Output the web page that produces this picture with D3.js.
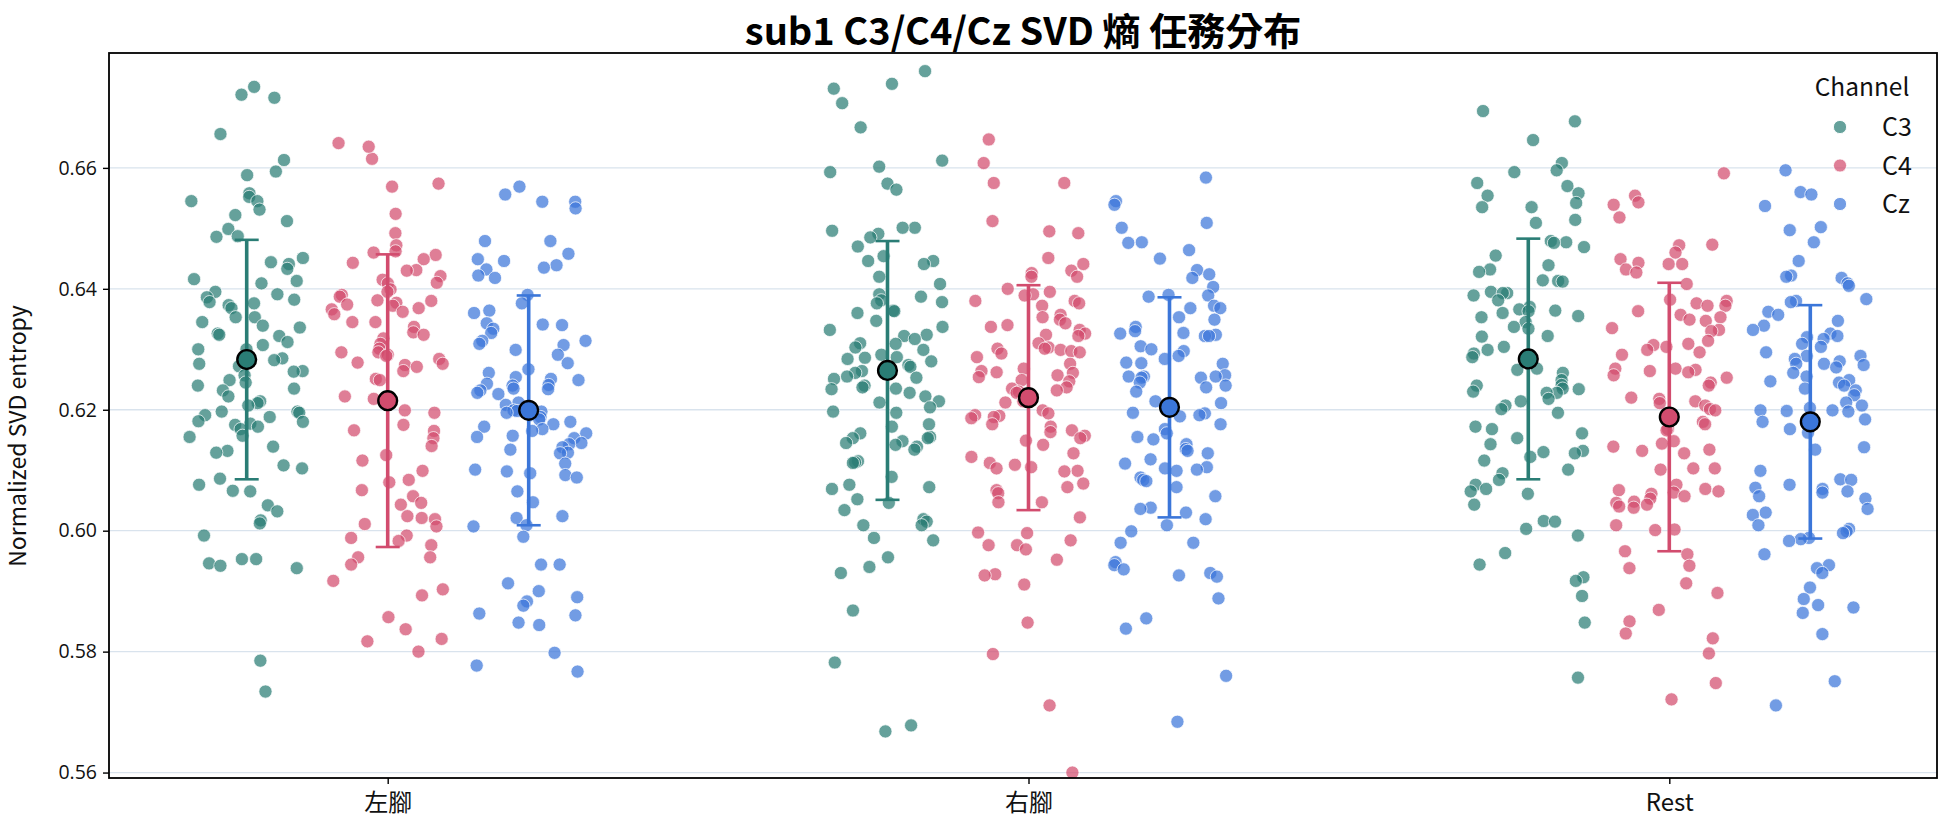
<!DOCTYPE html>
<html><head><meta charset="utf-8">
<script src="https://cdn.jsdelivr.net/npm/d3@7"></script>
<style>body{margin:0;background:#fff}</style>
</head><body><svg id="chart" width="1944" height="827"></svg>
<script>
const categories = ["左腳", "右腳", "Rest"];
const channels = ["C3", "C4", "Cz"];
const yTicks = [0.56, 0.58, 0.60, 0.62, 0.64, 0.66];

const mean_C3 = [0.6283, 0.6265, 0.6284];
const mean_C4 = [0.6215, 0.6220, 0.6188];
const mean_Cz = [0.6199, 0.6204, 0.6180];
const sd_C3 = [0.0198, 0.0214, 0.0199];
const sd_C4 = [0.0242, 0.0186, 0.0222];
const sd_Cz = [0.0190, 0.0182, 0.0193];

const leftFoot_C3 = [0.6716,0.6734,0.6721,0.6656,0.6613,0.6594,0.6588,0.6558,0.6552,0.6545,0.6545,0.6531,0.6522,0.6512,0.6499,0.6487,0.6486,0.6451,0.6444,0.6441,0.6433,0.6416,0.6409,0.6413,0.6395,0.6391,0.6386,0.6382,0.6378,0.6373,0.6376,0.6368,0.6353,0.6353,0.6345,0.6339,0.6336,0.6326,0.6324,0.6322,0.6312,0.6307,0.6300,0.6300,0.6285,0.6282,0.6276,0.6272,0.6264,0.6263,0.6257,0.6249,0.6245,0.6240,0.6235,0.6232,0.6222,0.6214,0.6211,0.6207,0.6197,0.6197,0.6195,0.6191,0.6188,0.6181,0.6180,0.6177,0.6175,0.6172,0.6168,0.6157,0.6155,0.6139,0.6132,0.6129,0.6108,0.6103,0.6086,0.6076,0.6065,0.6066,0.6042,0.6032,0.6017,0.6012,0.5992,0.5953,0.5953,0.5946,0.5942,0.5938,0.5785,0.5734];
const leftFoot_C4 = [0.6641,0.6615,0.6635,0.6574,0.6569,0.6524,0.6492,0.6472,0.6462,0.6460,0.6456,0.6449,0.6443,0.6431,0.6430,0.6421,0.6415,0.6410,0.6409,0.6399,0.6395,0.6390,0.6387,0.6381,0.6380,0.6377,0.6374,0.6372,0.6368,0.6366,0.6362,0.6358,0.6345,0.6345,0.6337,0.6328,0.6324,0.6318,0.6309,0.6301,0.6295,0.6295,0.6291,0.6289,0.6284,0.6278,0.6276,0.6274,0.6271,0.6264,0.6251,0.6249,0.6222,0.6218,0.6199,0.6195,0.6175,0.6166,0.6165,0.6153,0.6140,0.6125,0.6116,0.6099,0.6084,0.6080,0.6067,0.6057,0.6046,0.6043,0.6024,0.6021,0.6019,0.6011,0.6007,0.5992,0.5988,0.5983,0.5976,0.5956,0.5956,0.5944,0.5917,0.5903,0.5893,0.5857,0.5837,0.5821,0.5817,0.5800];
const leftFoot_Cz = [0.6569,0.6556,0.6544,0.6544,0.6533,0.6479,0.6479,0.6458,0.6449,0.6446,0.6439,0.6435,0.6432,0.6422,0.6418,0.6390,0.6376,0.6364,0.6360,0.6343,0.6341,0.6340,0.6334,0.6327,0.6314,0.6314,0.6309,0.6307,0.6299,0.6291,0.6277,0.6267,0.6261,0.6254,0.6251,0.6249,0.6243,0.6241,0.6240,0.6235,0.6234,0.6232,0.6228,0.6226,0.6212,0.6208,0.6199,0.6198,0.6197,0.6195,0.6191,0.6188,0.6184,0.6180,0.6176,0.6172,0.6168,0.6165,0.6161,0.6157,0.6155,0.6153,0.6145,0.6143,0.6138,0.6134,0.6129,0.6128,0.6111,0.6101,0.6098,0.6095,0.6092,0.6088,0.6065,0.6047,0.6024,0.6021,0.6009,0.6007,0.5990,0.5944,0.5944,0.5913,0.5900,0.5890,0.5883,0.5876,0.5863,0.5860,0.5848,0.5844,0.5798,0.5777,0.5767];
const rightFoot_C3 = [0.6760,0.6739,0.6731,0.6707,0.6667,0.6612,0.6602,0.6593,0.6574,0.6564,0.6501,0.6501,0.6496,0.6491,0.6485,0.6470,0.6454,0.6446,0.6446,0.6441,0.6420,0.6408,0.6391,0.6387,0.6381,0.6378,0.6376,0.6364,0.6363,0.6360,0.6347,0.6337,0.6332,0.6324,0.6322,0.6317,0.6310,0.6309,0.6303,0.6299,0.6291,0.6287,0.6286,0.6284,0.6280,0.6274,0.6271,0.6264,0.6261,0.6255,0.6253,0.6251,0.6240,0.6237,0.6235,0.6234,0.6228,0.6222,0.6214,0.6212,0.6204,0.6197,0.6195,0.6176,0.6172,0.6161,0.6155,0.6153,0.6153,0.6148,0.6145,0.6142,0.6139,0.6134,0.6115,0.6113,0.6112,0.6089,0.6076,0.6072,0.6069,0.6052,0.6046,0.6034,0.6019,0.6015,0.6009,0.6009,0.5988,0.5984,0.5956,0.5940,0.5930,0.5868,0.5782,0.5678,0.5668];
const rightFoot_C4 = [0.6647,0.6608,0.6575,0.6575,0.6512,0.6495,0.6492,0.6451,0.6441,0.6430,0.6426,0.6420,0.6420,0.6400,0.6395,0.6391,0.6389,0.6380,0.6380,0.6376,0.6372,0.6357,0.6353,0.6349,0.6343,0.6340,0.6337,0.6332,0.6326,0.6324,0.6322,0.6310,0.6303,0.6301,0.6301,0.6299,0.6297,0.6295,0.6293,0.6287,0.6276,0.6268,0.6264,0.6262,0.6261,0.6257,0.6254,0.6249,0.6247,0.6237,0.6235,0.6232,0.6230,0.6228,0.6214,0.6212,0.6199,0.6194,0.6191,0.6190,0.6188,0.6186,0.6176,0.6172,0.6166,0.6163,0.6157,0.6153,0.6149,0.6142,0.6128,0.6122,0.6112,0.6109,0.6105,0.6103,0.6099,0.6098,0.6078,0.6072,0.6067,0.6062,0.6047,0.6047,0.6022,0.5997,0.5996,0.5984,0.5976,0.5976,0.5969,0.5952,0.5928,0.5926,0.5911,0.5848,0.5796,0.5711,0.5600];
const rightFoot_Cz = [0.6584,0.6545,0.6539,0.6509,0.6501,0.6477,0.6476,0.6464,0.6450,0.6431,0.6424,0.6418,0.6403,0.6390,0.6389,0.6387,0.6372,0.6368,0.6368,0.6353,0.6349,0.6337,0.6330,0.6327,0.6326,0.6324,0.6322,0.6322,0.6305,0.6300,0.6297,0.6289,0.6284,0.6278,0.6277,0.6276,0.6257,0.6255,0.6255,0.6255,0.6253,0.6253,0.6245,0.6240,0.6237,0.6230,0.6214,0.6211,0.6203,0.6195,0.6194,0.6191,0.6189,0.6176,0.6168,0.6161,0.6155,0.6151,0.6143,0.6135,0.6132,0.6128,0.6118,0.6111,0.6105,0.6103,0.6101,0.6099,0.6088,0.6084,0.6082,0.6072,0.6057,0.6038,0.6036,0.6030,0.6019,0.6009,0.5999,0.5980,0.5980,0.5948,0.5943,0.5936,0.5930,0.5926,0.5924,0.5888,0.5855,0.5838,0.5760,0.5684];
const rest_C3 = [0.6694,0.6677,0.6646,0.6608,0.6593,0.6596,0.6575,0.6570,0.6558,0.6554,0.6542,0.6535,0.6535,0.6514,0.6509,0.6479,0.6477,0.6476,0.6469,0.6455,0.6439,0.6432,0.6428,0.6414,0.6413,0.6412,0.6395,0.6393,0.6393,0.6389,0.6381,0.6370,0.6366,0.6363,0.6364,0.6360,0.6355,0.6353,0.6345,0.6337,0.6334,0.6322,0.6321,0.6304,0.6299,0.6293,0.6287,0.6268,0.6266,0.6261,0.6249,0.6241,0.6240,0.6235,0.6234,0.6230,0.6228,0.6228,0.6218,0.6214,0.6207,0.6201,0.6195,0.6172,0.6168,0.6161,0.6153,0.6143,0.6132,0.6130,0.6128,0.6122,0.6116,0.6101,0.6095,0.6084,0.6076,0.6069,0.6065,0.6061,0.6043,0.6016,0.6015,0.6003,0.5992,0.5963,0.5944,0.5923,0.5917,0.5892,0.5848,0.5757];
const rest_C4 = [0.6591,0.6554,0.6543,0.6539,0.6518,0.6472,0.6473,0.6460,0.6449,0.6441,0.6443,0.6441,0.6432,0.6427,0.6408,0.6382,0.6380,0.6376,0.6372,0.6372,0.6363,0.6357,0.6353,0.6349,0.6347,0.6335,0.6332,0.6330,0.6314,0.6309,0.6307,0.6304,0.6299,0.6295,0.6291,0.6268,0.6268,0.6266,0.6262,0.6257,0.6253,0.6264,0.6245,0.6240,0.6220,0.6218,0.6214,0.6211,0.6207,0.6201,0.6199,0.6180,0.6176,0.6168,0.6166,0.6148,0.6144,0.6139,0.6134,0.6132,0.6128,0.6103,0.6103,0.6101,0.6076,0.6069,0.6067,0.6065,0.6063,0.6061,0.6057,0.6053,0.6048,0.6046,0.6043,0.6040,0.6038,0.6009,0.6002,0.6001,0.5966,0.5961,0.5942,0.5938,0.5913,0.5897,0.5869,0.5850,0.5830,0.5822,0.5797,0.5748,0.5721];
const rest_Cz = [0.6596,0.6560,0.6556,0.6537,0.6502,0.6497,0.6477,0.6446,0.6422,0.6418,0.6420,0.6409,0.6405,0.6383,0.6380,0.6378,0.6362,0.6357,0.6347,0.6339,0.6332,0.6326,0.6322,0.6320,0.6317,0.6309,0.6304,0.6295,0.6289,0.6289,0.6284,0.6280,0.6276,0.6274,0.6276,0.6270,0.6261,0.6255,0.6249,0.6247,0.6245,0.6240,0.6235,0.6232,0.6224,0.6212,0.6207,0.6203,0.6199,0.6199,0.6198,0.6197,0.6184,0.6180,0.6168,0.6162,0.6138,0.6134,0.6099,0.6085,0.6084,0.6076,0.6071,0.6069,0.6065,0.6063,0.6057,0.6053,0.6036,0.6030,0.6026,0.6009,0.6003,0.5999,0.5996,0.5988,0.5986,0.5983,0.5961,0.5943,0.5938,0.5930,0.5906,0.5887,0.5877,0.5873,0.5864,0.5829,0.5751,0.5711];

const groups = [
  {cat: "左腳", ch: "C3", values: leftFoot_C3}, {cat: "左腳", ch: "C4", values: leftFoot_C4}, {cat: "左腳", ch: "Cz", values: leftFoot_Cz},
  {cat: "右腳", ch: "C3", values: rightFoot_C3}, {cat: "右腳", ch: "C4", values: rightFoot_C4}, {cat: "右腳", ch: "Cz", values: rightFoot_Cz},
  {cat: "Rest", ch: "C3", values: rest_C3}, {cat: "Rest", ch: "C4", values: rest_C4}, {cat: "Rest", ch: "Cz", values: rest_Cz}
];
const meanBy = {C3: mean_C3, C4: mean_C4, Cz: mean_Cz};
const sdBy = {C3: sd_C3, C4: sd_C4, Cz: sd_Cz};

const color = d3.scaleOrdinal().domain(channels).range(["#2a7d75", "#d24c6e", "#3b76d9"]);

const W = 1944, H = 827;
const P = {left: 109, right: 1937, top: 53, bottom: 778};
const svg = d3.select("#chart");
svg.append("rect").attr("width", W).attr("height", H).attr("fill", "#fff");

const y = d3.scaleLinear().domain([0.5591, 0.6790]).range([P.bottom, P.top]);
const x = d3.scalePoint().domain(categories).range([387.7, 1669.3]);
const dodge = d3.scalePoint().domain(channels).range([-141, 141]);
const jitterHalf = x.step() * 0.09;
// deterministic hash-based strip jitter in [-1, 1]
const jit = (i, g) => { const s = Math.sin(i * 12.9898 + g * 78.233) * 43758.5453; return (s - Math.floor(s)) * 2 - 1; };

svg.append("clipPath").attr("id", "plotclip").append("rect")
  .attr("x", P.left).attr("y", P.top).attr("width", P.right - P.left).attr("height", P.bottom - P.top);

// grid
svg.append("g").selectAll("line").data(yTicks).join("line")
  .attr("x1", P.left).attr("x2", P.right)
  .attr("y1", d => y(d)).attr("y2", d => y(d))
  .attr("stroke", "#d9e3ed").attr("stroke-width", 1.3);

// points
const plot = svg.append("g").attr("clip-path", "url(#plotclip)");
groups.forEach((g, gi) => {
  const cx0 = x(g.cat) + dodge(g.ch);
  plot.append("g").selectAll("circle").data(g.values).join("circle")
    .attr("cx", (d, i) => cx0 + jit(i + 1, gi + 1) * jitterHalf)
    .attr("cy", d => y(d))
    .attr("r", 6.6)
    .attr("fill", color(g.ch)).attr("fill-opacity", 0.72)
    .attr("stroke", "#fff").attr("stroke-width", 0.9).attr("stroke-opacity", 0.8);
});

// error bars and means
categories.forEach((cat, ci) => {
  channels.forEach(ch => {
    const m = meanBy[ch][ci], s = sdBy[ch][ci];
    const cx = x(cat) + dodge(ch);
    const gg = svg.append("g");
    gg.append("line").attr("x1", cx).attr("x2", cx).attr("y1", y(m - s)).attr("y2", y(m + s))
      .attr("stroke", color(ch)).attr("stroke-width", 3.6);
    [m - s, m + s].forEach(v => {
      gg.append("line").attr("x1", cx - 12).attr("x2", cx + 12).attr("y1", y(v)).attr("y2", y(v))
        .attr("stroke", color(ch)).attr("stroke-width", 2.6);
    });
    gg.append("circle").attr("cx", cx).attr("cy", y(m)).attr("r", 9.4)
      .attr("fill", color(ch)).attr("stroke", "#000").attr("stroke-width", 2.4);
  });
});

// axes
const tickFont = "'Open Sans', 'Noto Sans', sans-serif";
const cjkFont = "'Noto Sans CJK TC', sans-serif";
const yAxis = svg.append("g").attr("transform", `translate(${P.left},0)`)
  .call(d3.axisLeft(y).tickValues(yTicks).tickFormat(d3.format(".2f")).tickSize(6).tickPadding(6));
yAxis.select(".domain").remove();
yAxis.selectAll("line").attr("stroke", "#000").attr("stroke-width", 1.4);
yAxis.selectAll("text").attr("font-size", 19.5).attr("font-family", tickFont).attr("fill", "#111");

const xAxis = svg.append("g").attr("transform", `translate(0,${P.bottom})`)
  .call(d3.axisBottom(x).tickSize(6).tickPadding(10));
xAxis.select(".domain").remove();
xAxis.selectAll("line").attr("stroke", "#000").attr("stroke-width", 1.4);
xAxis.selectAll("text").attr("font-size", 24).attr("font-family", cjkFont).attr("fill", "#111");

// frame
svg.append("rect").attr("x", P.left).attr("y", P.top).attr("width", P.right - P.left).attr("height", P.bottom - P.top)
  .attr("fill", "none").attr("stroke", "#000").attr("stroke-width", 1.8);

// title
svg.append("text").attr("x", 1023).attr("y", 45).attr("text-anchor", "middle")
  .attr("font-family", cjkFont).attr("font-weight", "bold").attr("font-size", 38)
  .attr("fill", "#000").text("sub1 C3/C4/Cz SVD 熵 任務分布");

// y label
svg.append("text").attr("transform", "translate(26,436) rotate(-90)").attr("text-anchor", "middle")
  .attr("font-family", cjkFont).attr("font-size", 23).attr("fill", "#111")
  .text("Normalized SVD entropy");

// legend
const lg = svg.append("g");
lg.append("text").attr("x", 1862).attr("y", 96).attr("text-anchor", "middle")
  .attr("font-family", cjkFont).attr("font-size", 24.5).attr("fill", "#111").text("Channel");
channels.forEach((ch, i) => {
  const ly = 127 + i * 38.5;
  lg.append("circle").attr("cx", 1840).attr("cy", ly).attr("r", 6.6)
    .attr("fill", color(ch)).attr("fill-opacity", 0.72).attr("stroke", "#fff").attr("stroke-width", 0.9);
  lg.append("text").attr("x", 1882).attr("y", ly + 9).attr("font-family", cjkFont)
    .attr("font-size", 25).attr("fill", "#111").text(ch);
});
</script></body></html>
